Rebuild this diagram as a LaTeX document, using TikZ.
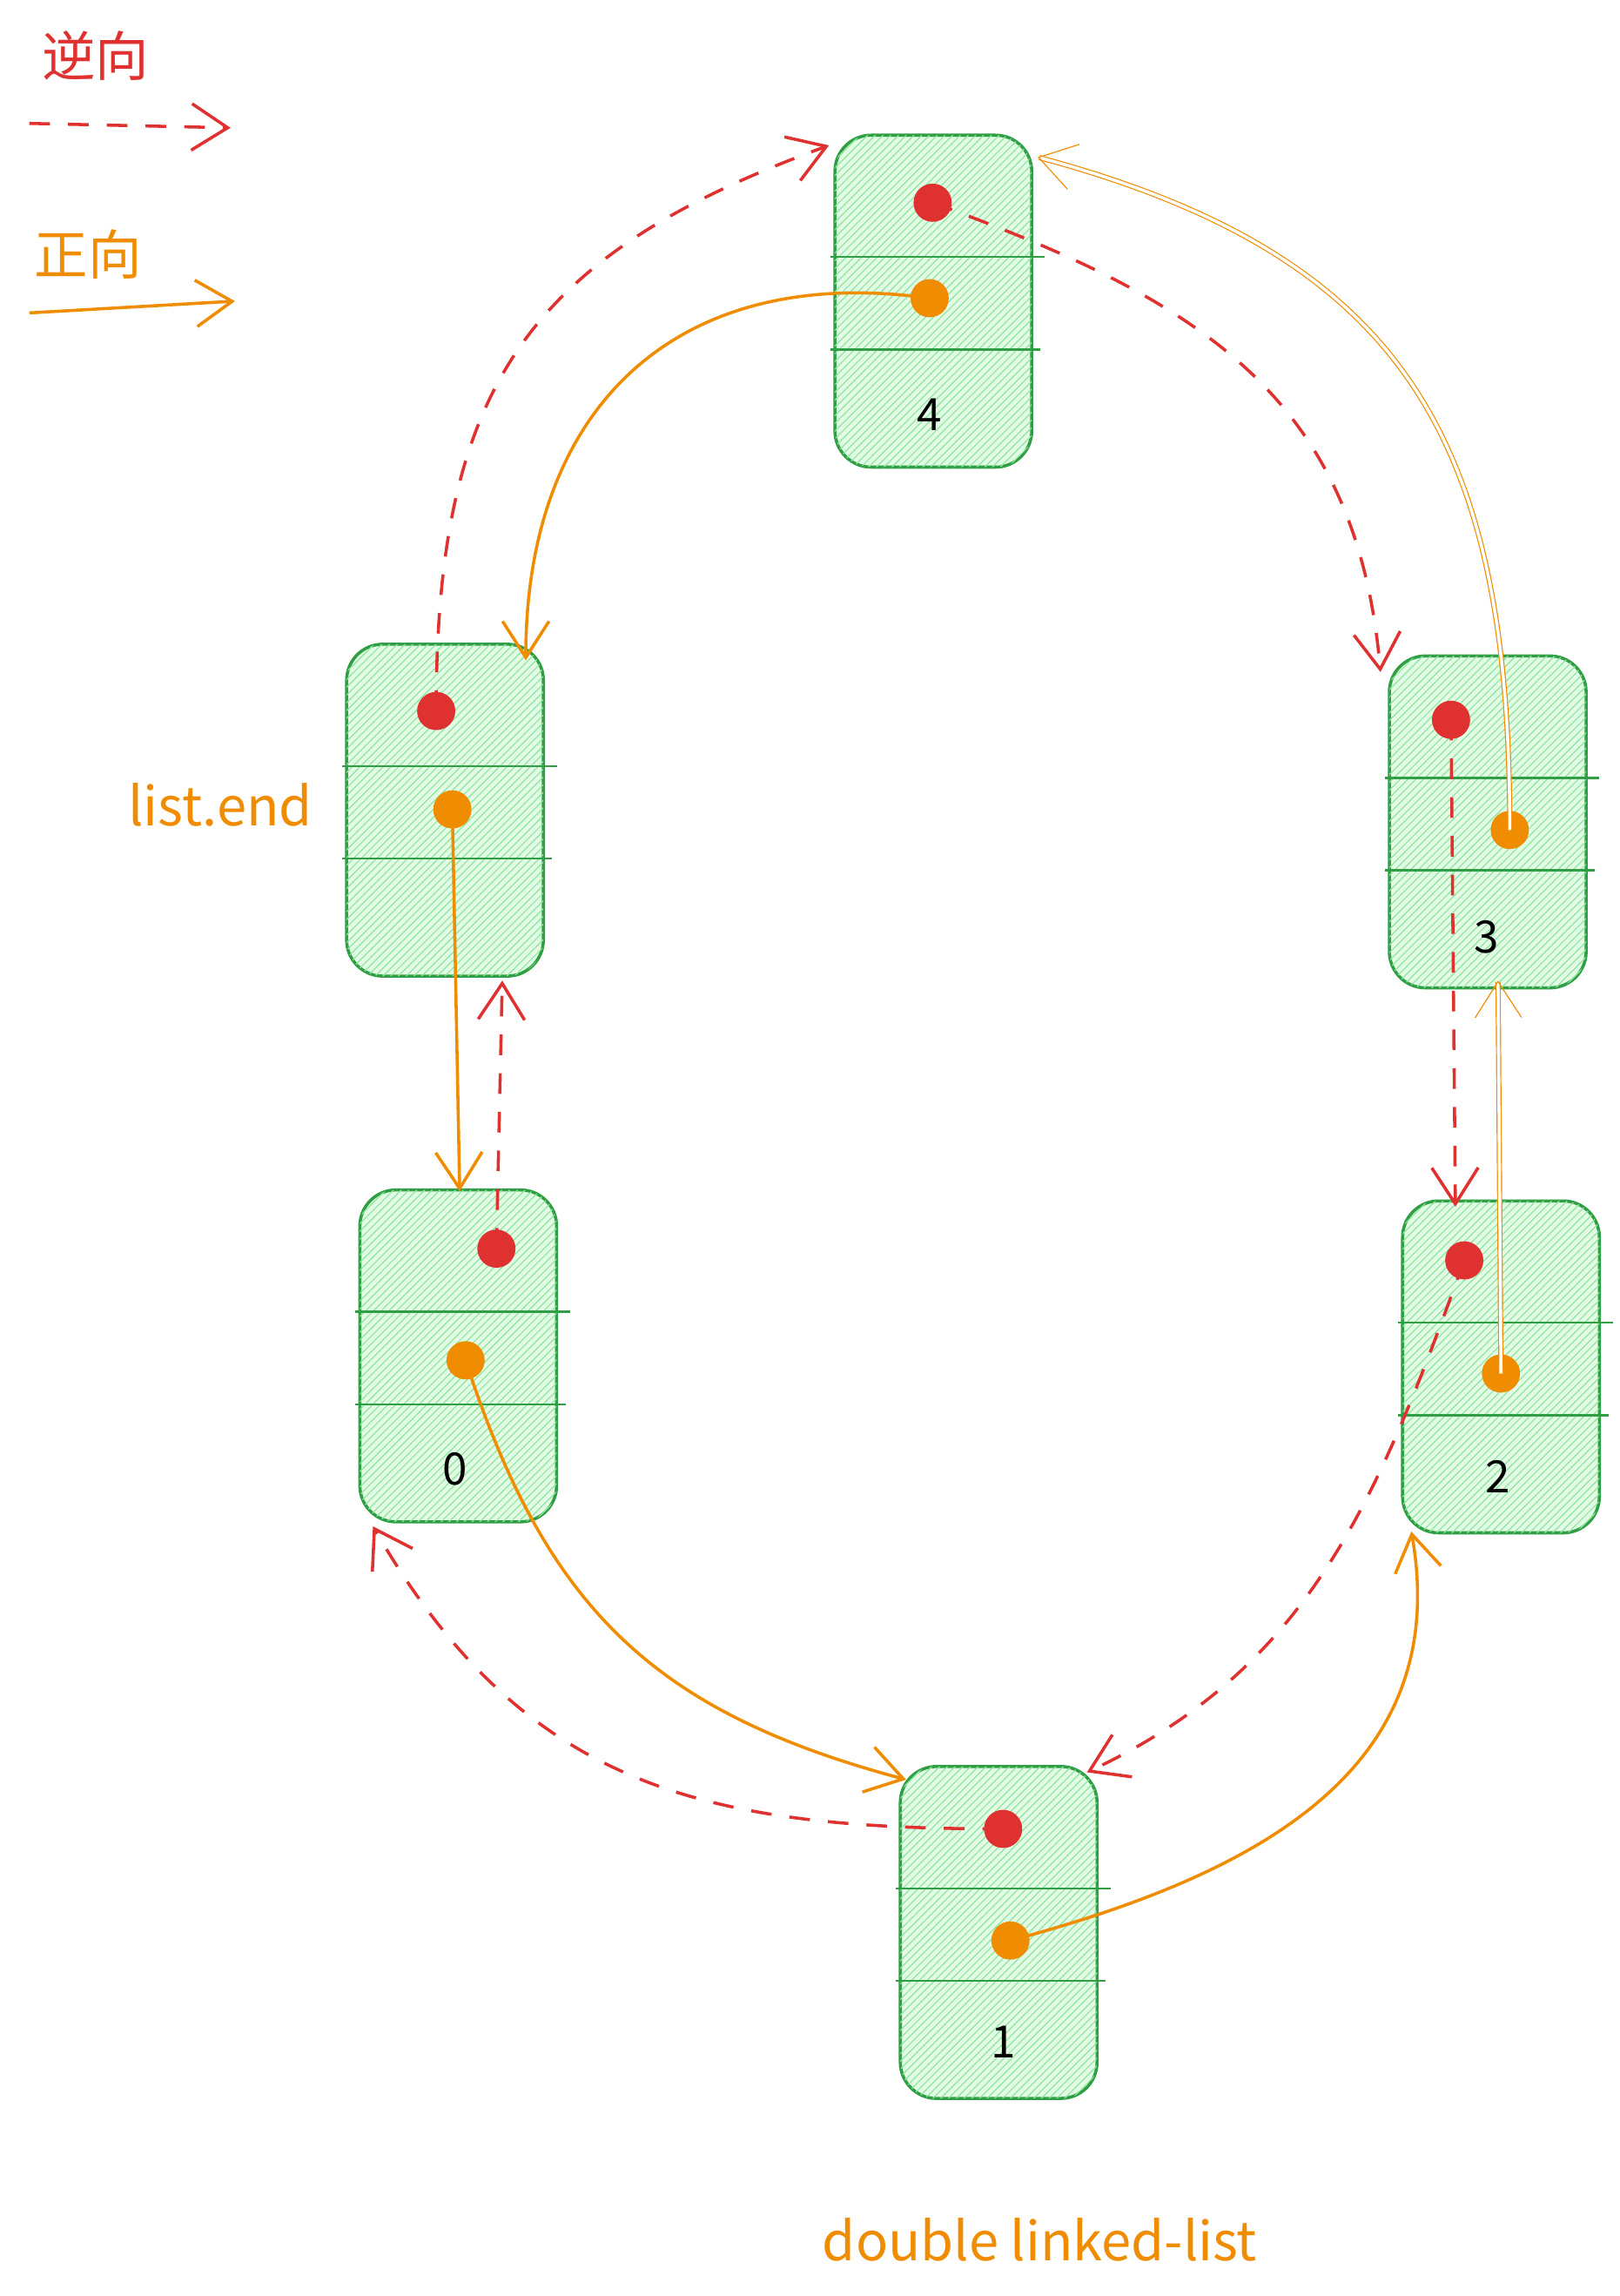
\documentclass[tikz,border=0pt]{standalone}
\usepackage{fontspec}
\setmainfont{Noto Sans CJK SC}
\usetikzlibrary{positioning,calc,patterns,arrows.meta}
\definecolor{revred}{HTML}{E03131}
\definecolor{fwdorange}{HTML}{F08C00}
\definecolor{boxgreen}{HTML}{2F9E44}
\definecolor{boxfill}{HTML}{8CE99A}
\tikzset{
  box/.style={draw=boxgreen, very thick, rounded corners=14pt, fill=boxfill!25,
    minimum width=2.68cm, minimum height=4.52cm,
    postaction={pattern=north east lines, pattern color=boxfill}},
  divider/.style={draw=boxgreen, thick},
  reddot/.style={circle, inner sep=0pt, minimum size=0.52cm, fill=revred},
  orangedot/.style={circle, inner sep=0pt, minimum size=0.52cm, fill=fwdorange},
  rev/.style={draw=revred, very thick, dash pattern=on 8pt off 7pt,
    -{Straight Barb[length=14pt,width=18pt]}},
  fwd/.style={draw=fwdorange, very thick, -{Straight Barb[length=14pt,width=18pt]}},
  fwdd/.style={draw=fwdorange, double=white, double distance=1.2pt, -{Straight Barb[length=14pt,width=18pt]}},
  numlabel/.style={font=\LARGE}
}
\begin{document}
\begin{tikzpicture}[x=0.02cm, y=-0.02cm]
  \useasboundingbox (0,0) rectangle (1103,1563);

  %legend
  \node[text=revred, font=\huge] (revtext) at (65,38) {逆向};
  \coordinate (revA) at (20,84);
  \coordinate (revB) at (157,87);
  \draw[rev] (revA) -- (revB);
  \node[text=fwdorange, font=\huge] (fwdtext) at (60,173) {正向};
  \coordinate (fwdA) at (20,213);
  \coordinate (fwdB) at (160,205);
  \draw[fwd] (fwdA) -- (fwdB);

  %boxes
  \node[box] (n4) at (635.5,205) {};
  \node[box] (nend) at (303,551.5) {};
  \node[box] (n3) at (1013,559.5) {};
  \node[box] (n0) at (312,923) {};
  \node[box] (n2) at (1022,930.5) {};
  \node[box] (n1) at (680,1315.5) {};

  %dividers
  \foreach \b in {n4,nend,n3,n0,n2,n1}{
    \draw[divider] ($(\b.west)+(-2,-30)$) -- ($(\b.east)+(8,-30)$);
    \draw[divider] ($(\b.west)+(-2,33)$) -- ($(\b.east)+(5,33)$);
  }

  %values
  \node[numlabel] (v4) at (633,282) {4};
  \node[numlabel] (v3) at (1012,638) {3};
  \node[numlabel] (v0) at (310,1000) {0};
  \node[numlabel] (v2) at (1020,1005) {2};
  \node[numlabel] (v1) at (683,1390) {1};

  %dots
  \node[reddot] (r4) at (635,138) {};
  \node[orangedot] (o4) at (633,203) {};
  \node[reddot] (rend) at (297,484) {};
  \node[orangedot] (oend) at (308,551) {};
  \node[reddot] (r3) at (988,490) {};
  \node[orangedot] (o3) at (1028,565) {};
  \node[reddot] (r0) at (338,850) {};
  \node[orangedot] (o0) at (317,926) {};
  \node[reddot] (r2) at (997,858) {};
  \node[orangedot] (o2) at (1022,935) {};
  \node[reddot] (r1) at (683,1245) {};
  \node[orangedot] (o1) at (688,1321) {};

  %reverse links
  \draw[rev] (r4.center) to[out=-20, in=95, looseness=1.1] ($(n3.north west)+(-5,12)$);
  \draw[rev] (r3.center) -- ($(n2.north west)+(37,5)$);
  \draw[rev] (r2.center) to[out=-110, in=25] ($(n1.north east)+(-8,5)$);
  \draw[rev] (r1.center) to[out=180, in=-60, looseness=1.1] ($(n0.south west)+(10,2)$);
  \draw[rev] (r0.center) -- ($(nend.south)+(39,2)$);
  \draw[rev] (rend.center) to[out=90, in=200, looseness=1.2] ($(n4.north west)+(-3,8)$);

  %forward links
  \draw[fwd] (o4.center) to[out=172, in=90, looseness=1.2] ($(nend.north)+(55,12)$);
  \draw[fwd] (oend.center) -- ($(n0.north)+(1,2)$);
  \draw[fwd] (o0.center) to[out=-72, in=165, looseness=1.1] ($(n1.north west)+(5,10)$);
  \draw[fwd] (o1.center) to[out=15, in=-80, looseness=1.1] ($(n2.south west)+(7,-2)$);
  \draw[fwdd] (o2.center) -- ($(n3.south)+(7,-6)$);
  \draw[fwdd] (o3.center) to[out=90, in=-15, looseness=1.2] ($(n4.north east)+(3,16)$);

  %captions
  \node[text=fwdorange, font=\huge] (endtext) at (150,548) {list.end};
  \node[text=fwdorange, font=\huge] (title) at (708,1525) {double linked-list};
\end{tikzpicture}
\end{document}
